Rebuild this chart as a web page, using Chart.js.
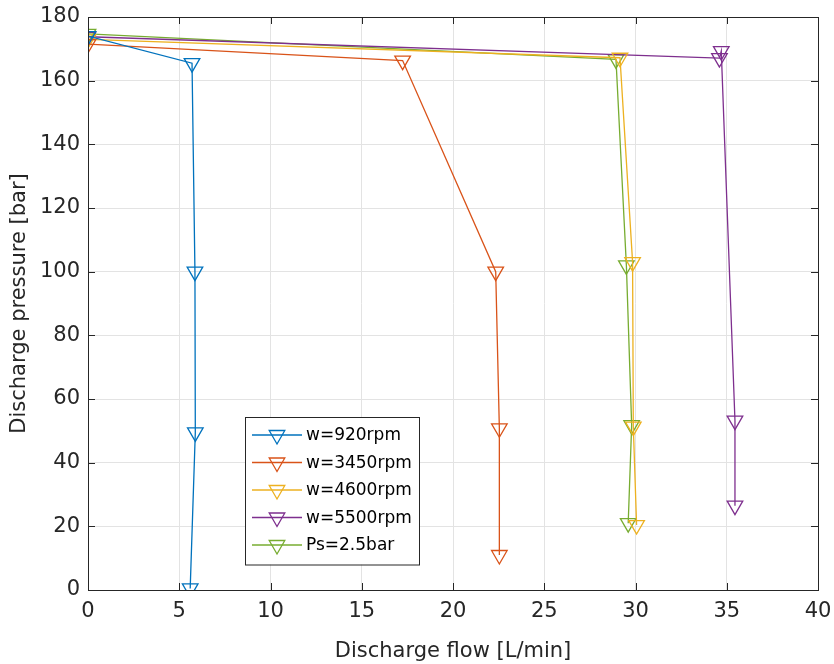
<!DOCTYPE html>
<html>
<head>
<meta charset="utf-8">
<script src="https://cdn.jsdelivr.net/npm/chart.js"></script>
<style>
  html, body { margin: 0; padding: 0; background: #fff; }
  #wrap { width: 834px; height: 664px; }
</style>
</head>
<body>
<div id="wrap"><canvas id="pumpChart" width="834" height="664"></canvas></div>
<script>
const seriesNames = ["w=920rpm", "w=3450rpm", "w=4600rpm", "w=5500rpm", "Ps=2.5bar"];
const seriesColors = ["#0072BD", "#D95319", "#EDB120", "#7E2F8E", "#77AC30"];

const flow920 = [0, 5.7, 5.86, 5.88, 5.6];
const pres920 = [174, 165.5, 100, 49.5, 0.5];

const flow3450 = [0, 17.24, 22.34, 22.54, 22.54];
const pres3450 = [171.5, 166.3, 100, 50.8, 11];

const flow4600 = [0, 29.15, 29.84, 29.88, 30.06];
const pres4600 = [173, 167.2, 103, 51.3, 20.4];

const flow5500 = [0, 34.6, 34.7, 35.45, 35.45];
const pres5500 = [173.8, 167.1, 169.3, 53.2, 26.5];

const flowPs = [0, 28.93, 29.5, 29.79, 29.6];
const presPs = [174.7, 166.7, 102, 51.8, 21];

const xTicks = [0, 5, 10, 15, 20, 25, 30, 35, 40];
const yTicks = [0, 20, 40, 60, 80, 100, 120, 140, 160, 180];

const allFlows = [flow920, flow3450, flow4600, flow5500, flowPs];
const allPres = [pres920, pres3450, pres4600, pres5500, presPs];

const textColor = "#262626";
const fontFamily = "'DejaVu Sans', sans-serif";

const datasets = seriesNames.map((name, i) => ({
  label: name,
  data: allFlows[i].map((x, j) => ({ x: x, y: allPres[i][j] })),
  showLine: true,
  borderColor: seriesColors[i],
  backgroundColor: "rgba(0,0,0,0)",
  borderWidth: 1.3,
  pointStyle: "triangle",
  rotation: 180,
  pointRadius: 9,
  pointHoverRadius: 9,
  pointBorderColor: seriesColors[i],
  pointBackgroundColor: "rgba(0,0,0,0)",
  pointBorderWidth: 1.3
}));

// box around the axes + inward ticks, like matlab
const framePlugin = {
  id: "frame",
  afterDraw(chart) {
    const { ctx, chartArea: a, scales } = chart;
    ctx.save();
    ctx.strokeStyle = textColor;
    ctx.lineWidth = 1;
    ctx.strokeRect(a.left + 0.5, a.top + 0.5, a.right - a.left, a.bottom - a.top);
    ctx.beginPath();
    xTicks.forEach(v => {
      const px = Math.round(scales.x.getPixelForValue(v)) + 0.5;
      ctx.moveTo(px, a.bottom); ctx.lineTo(px, a.bottom - 7);
      ctx.moveTo(px, a.top); ctx.lineTo(px, a.top + 7);
    });
    yTicks.forEach(v => {
      const py = Math.round(scales.y.getPixelForValue(v)) + 0.5;
      ctx.moveTo(a.left, py); ctx.lineTo(a.left + 7, py);
      ctx.moveTo(a.right, py); ctx.lineTo(a.right - 7, py);
    });
    ctx.stroke();
    ctx.restore();
  }
};

// legend box inside the plot
const legendPlugin = {
  id: "boxLegend",
  afterDraw(chart) {
    const ctx = chart.ctx;
    const left = 245, top = 417, w = 174, rowH = 27.5;
    const h = rowH * seriesNames.length + 10;
    ctx.save();
    ctx.fillStyle = "#fff";
    ctx.fillRect(left, top, w, h);
    ctx.strokeStyle = textColor;
    ctx.lineWidth = 1;
    ctx.strokeRect(left + 0.5, top + 0.5, w, h);
    ctx.font = "17px " + fontFamily;
    ctx.textBaseline = "middle";
    seriesNames.forEach((name, i) => {
      const y = top + 18 + i * rowH;
      ctx.strokeStyle = seriesColors[i];
      ctx.lineWidth = 1.3;
      ctx.beginPath();
      ctx.moveTo(252, y); ctx.lineTo(302, y);
      ctx.stroke();
      // down triangle marker
      const r = 9, cx = 277;
      ctx.beginPath();
      ctx.moveTo(cx - r * 0.866, y - r * 0.5);
      ctx.lineTo(cx + r * 0.866, y - r * 0.5);
      ctx.lineTo(cx, y + r);
      ctx.closePath();
      ctx.stroke();
      ctx.fillStyle = "#000";
      ctx.fillText(name, 306, y + 1);
    });
    ctx.restore();
  }
};

new Chart(document.getElementById("pumpChart"), {
  type: "scatter",
  data: { datasets: datasets },
  plugins: [framePlugin, legendPlugin],
  options: {
    responsive: false,
    animation: false,
    layout: { padding: { top: 17, right: 16, left: 0, bottom: 0 } },
    plugins: {
      legend: { display: false },
      tooltip: { enabled: false }
    },
    scales: {
      x: {
        type: "linear",
        min: 0,
        max: 40,
        afterBuildTicks: s => { s.ticks = xTicks.map(v => ({ value: v })); },
        afterFit: s => { s.height = 74; s.paddingLeft = 0; s.paddingRight = 0; },
        grid: { color: "#e3e3e3", drawTicks: false },
        border: { display: false },
        ticks: {
          color: textColor,
          padding: 9,
          maxRotation: 0,
          font: { family: fontFamily, size: 21 }
        },
        title: {
          display: true,
          text: "Discharge flow [L/min]",
          color: textColor,
          padding: { top: 2, bottom: 0 },
          font: { family: fontFamily, size: 21 }
        }
      },
      y: {
        type: "linear",
        min: 0,
        max: 180,
        afterBuildTicks: s => { s.ticks = yTicks.map(v => ({ value: v })); },
        afterFit: s => { s.width = 88; s.paddingTop = 0; s.paddingBottom = 0; },
        grid: { color: "#e3e3e3", drawTicks: false },
        border: { display: false },
        ticks: {
          color: textColor,
          padding: 8,
          font: { family: fontFamily, size: 21 }
        },
        title: {
          display: true,
          text: "Discharge pressure [bar]",
          color: textColor,
          padding: { top: 7, bottom: 0 },
          font: { family: fontFamily, size: 21 }
        }
      }
    }
  }
});
</script>
</body>
</html>
